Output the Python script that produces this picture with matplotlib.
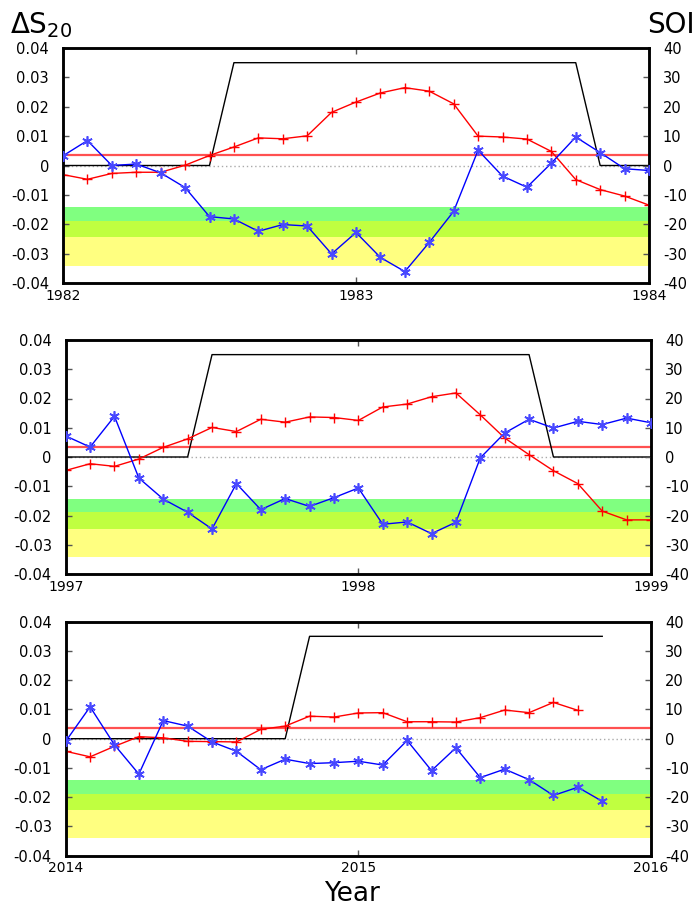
import matplotlib
matplotlib.use("Agg")
import matplotlib.pyplot as plt
import numpy as np

plt.rcParams['font.family'] = ['DejaVu Sans']
plt.rcParams['mathtext.fontset'] = 'dejavusans'

# ---------------- data ----------------
start_years = [1982, 1997, 2014]

# Delta S20 (left axis), monthly from Jan of start year
ds20_1982 = [-0.0031, -0.0047, -0.0027, -0.0023, -0.0023, 0.0001, 0.0034, 0.0063, 0.0094, 0.0091,
             0.0101, 0.0181, 0.0216, 0.0247, 0.0265, 0.0253, 0.0210, 0.0100, 0.0097, 0.0090,
             0.0048, -0.0048, -0.0082, -0.0104, -0.0135]
ds20_1997 = [-0.0046, -0.0023, -0.0032, -0.0007, 0.0033, 0.0062, 0.0101, 0.0087, 0.0129, 0.0119,
             0.0137, 0.0135, 0.0125, 0.0171, 0.0181, 0.0206, 0.0219, 0.0144, 0.0065, 0.0008,
             -0.0047, -0.0091, -0.0185, -0.0215, -0.0215]
ds20_2014 = [-0.0043, -0.0062, -0.0026, 0.0007, 0.0003, -0.0009, -0.0010, -0.0011, 0.0032, 0.0043,
             0.0077, 0.0074, 0.0088, 0.0089, 0.0058, 0.0058, 0.0057, 0.0072, 0.0098, 0.0089,
             0.0124, 0.0097]

# SOI (right axis)
soi_1982 = [3.3, 8.5, 0.0, 0.5, -2.5, -7.5, -17.4, -18.2, -22.4, -20.1, -20.6, -30.1, -22.8,
            -31.3, -36.1, -26.2, -15.6, 5.2, -3.6, -7.4, 0.8, 9.7, 4.4, -1.1, -1.7]
soi_1997 = [7.2, 3.4, 13.9, -7.2, -14.4, -18.9, -24.6, -9.1, -18.0, -14.2, -16.9, -13.9, -10.6,
            -23.0, -22.2, -26.2, -22.3, -0.3, 8.2, 12.9, 9.9, 12.2, 11.1, 13.3, 11.7]
soi_2014 = [-0.9, 10.9, -2.1, -12.1, 6.2, 4.3, -1.1, -4.3, -10.6, -7.0, -8.5, -8.2, -7.7,
            -9.0, -0.6, -10.9, -3.1, -13.3, -10.4, -14.0, -19.4, -16.6, -21.4]

# El Nino indicator (months index, value in left-axis units)
nino_months_1982 = [0, 6, 7, 21, 22, 24]
nino_values_1982 = [0, 0, 0.035, 0.035, 0, 0]
nino_months_1997 = [0, 5, 6, 19, 20, 24]
nino_values_1997 = [0, 0, 0.035, 0.035, 0, 0]
nino_months_2014 = [0, 9, 10, 22]
nino_values_2014 = [0, 0, 0.035, 0.035]

ds20_threshold = 0.0035
# horizontal bands (left-axis units): (low, high, colour)
band_lows = [-0.0188, -0.0245, -0.0341]
band_highs = [-0.0142, -0.0188, -0.0245]
band_colors = ['#80ff80', '#c0ff40', '#ffff80']

left_ticks = [-0.04, -0.03, -0.02, -0.01, 0, 0.01, 0.02, 0.03, 0.04]
left_labels = ['-0.04', '-0.03', '-0.02', '-0.01', '0', '0.01', '0.02', '0.03', '0.04']
right_ticks = [-40, -30, -20, -10, 0, 10, 20, 30, 40]

panels = [
    (ds20_1982, soi_1982, nino_months_1982, nino_values_1982),
    (ds20_1997, soi_1997, nino_months_1997, nino_values_1997),
    (ds20_2014, soi_2014, nino_months_2014, nino_values_2014),
]

# ---------------- layout ----------------
W, H = 700, 910
fig = plt.figure(figsize=(W / 100, H / 100), dpi=100)
rects_px = [(63, 48, 649, 283), (65.7, 340, 651, 574), (65.7, 621.7, 651, 855.7)]

for (y0, (ds, soi, nm, nv), (l, t, r, b)) in zip(start_years, panels, rects_px):
    ax = fig.add_axes([l / W, 1 - b / H, (r - l) / W, (b - t) / H])
    ax2 = ax.twinx()
    ax.set_zorder(1)
    ax2.set_zorder(2)
    ax2.patch.set_visible(False)

    for lo, hi, c in zip(band_lows, band_highs, band_colors):
        ax.axhspan(lo, hi, color=c, lw=0, zorder=0)
    ax.axhline(0, color='#aaaaaa', lw=1, ls=(0, (1, 2)), zorder=1)
    ax.axhline(ds20_threshold, color='#ff5050', lw=1.6, zorder=2)

    xn = [y0 + m / 12 for m in nm]
    ax.plot(xn, nv, color='black', lw=1, zorder=3)

    xr = [y0 + m / 12 for m in range(len(ds))]
    ax.plot(xr, ds, color='red', lw=1, marker='+', ms=7, mew=1, zorder=4)

    xb = [y0 + m / 12 for m in range(len(soi))]
    ax2.plot(xb, soi, color='blue', lw=1, marker=(6, 2, 0), ms=7.5, mew=1.2,
             mec='#4848ff', zorder=5)

    ax.set_xlim(y0, y0 + 2)
    ax.set_ylim(-0.04, 0.04)
    ax2.set_ylim(-40, 40)
    ax.set_xticks([y0, y0 + 1, y0 + 2])
    ax.set_xticklabels([str(y0), str(y0 + 1), str(y0 + 2)])
    ax.set_yticks(left_ticks)
    ax.set_yticklabels(left_labels)
    ax2.set_yticks(right_ticks)
    ax2.set_yticklabels([str(v) for v in right_ticks])

    ax.tick_params(axis='x', direction='in', length=4, width=1, color='#555555',
                   top=True, labelsize=10, pad=4)
    ax.tick_params(axis='y', direction='in', length=4, width=1, color='#555555',
                   labelsize=10.5, pad=10)
    ax2.tick_params(axis='y', direction='in', length=4, width=1, color='#555555',
                    labelsize=10.5, pad=10)
    for a in (ax, ax2):
        for s in a.spines.values():
            s.set_linewidth(1.8)

fig.text(10 / W, 1 - 33 / H, r'$\Delta\mathrm{S}_{20}$', fontsize=20, ha='left', va='baseline')
fig.text(647 / W, 1 - 33 / H, 'SOI', fontsize=20, ha='left', va='baseline')
fig.text(352 / W, 1 - 901 / H, 'Year', fontsize=19, ha='center', va='baseline')

fig.savefig('out.png', dpi=100)
